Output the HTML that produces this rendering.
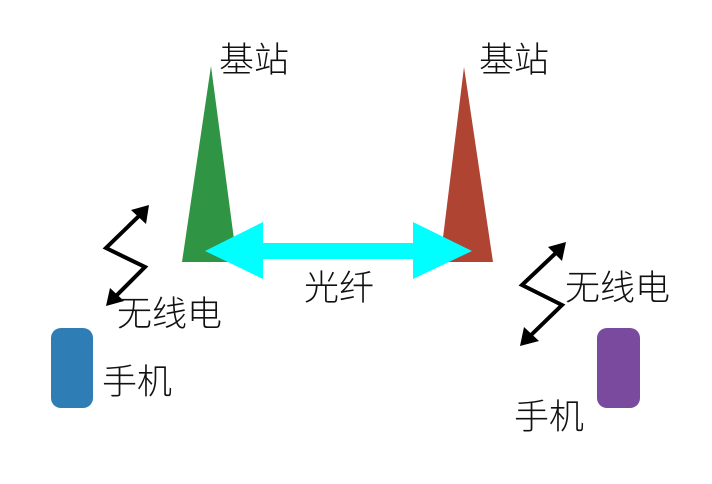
<!DOCTYPE html>
<html><head><meta charset="utf-8"><style>
body{margin:0;background:#fff;width:712px;height:479px;overflow:hidden}
svg text{font-family:"Liberation Sans","Noto Sans CJK SC",sans-serif;font-size:35px;fill:#111;font-weight:300}
</style></head><body>
<svg width="712" height="479" viewBox="0 0 712 479">
<polygon points="211,66 182,262 237,262" fill="#2f9444"/>
<polygon points="464,67 440,262 493,262" fill="#b04433"/>
<polygon points="205,251 263,222 263,243 413,243 413,222 472,251 413,279 413,259 263,259 263,279" fill="#00ffff"/>
<g stroke="#000" stroke-width="4" fill="none" stroke-linejoin="miter">
<polyline points="142,213 106,248 145,267 113,299"/>
<polyline points="559,250 522,285 562,305 527,339"/>
</g>
<g fill="#000">
<polygon points="149,205 146,224 131,210"/>
<polygon points="106,306 110,288 124,301"/>
<polygon points="566,242 562,261 548,247"/>
<polygon points="520,346 524,327 539,341"/>
</g>
<rect x="51" y="328" width="42" height="80" rx="10" fill="#2f7db5"/>
<rect x="597" y="328" width="43" height="80" rx="10" fill="#7a4a9e"/>
<text x="219" y="72">基站</text>
<text x="479" y="72">基站</text>
<text x="304" y="300">光纤</text>
<text x="117" y="326">无线电</text>
<text x="565" y="300">无线电</text>
<text x="102" y="394">手机</text>
<text x="514" y="429">手机</text>
</svg>
</body></html>
